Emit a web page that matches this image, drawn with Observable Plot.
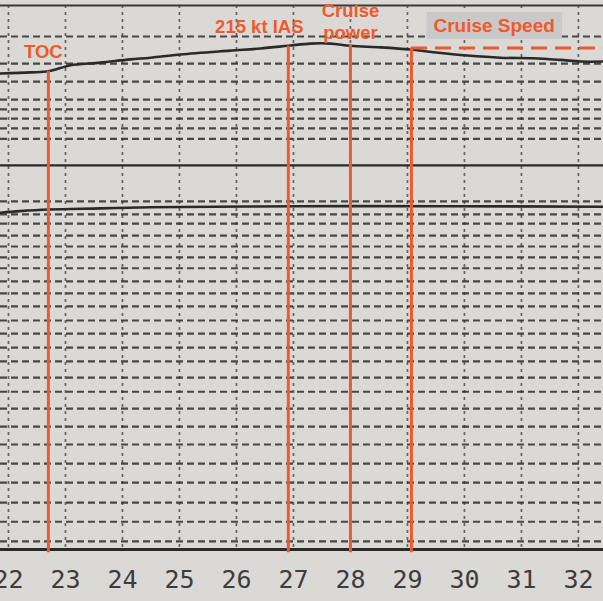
<!DOCTYPE html>
<html><head><meta charset="utf-8">
<script src="https://cdn.jsdelivr.net/npm/d3@7"></script>
<script src="https://cdn.jsdelivr.net/npm/@observablehq/plot@0.6"></script>
<style>html,body{margin:0;padding:0;background:#dbd9d5;overflow:hidden;}</style>
</head><body><div id="chart"></div>
<script>
// Time axis (hours) tick labels
const hourTicks = [22, 23, 24, 25, 26, 27, 28, 29, 30, 31, 32];
const timeDomain = [21.86, 32.44];
// Chart-paper levels (0 = bottom frame, 100 = top frame)
const dashedLevels = [94.3, 89.3, 86.0, 82.7, 80.9, 79.2, 77.4, 75.5,
  64.0, 61.6, 59.9, 57.7, 55.7, 53.7, 51.7, 49.3, 47.1, 44.7, 42.1, 39.7, 37.1,
  34.6, 31.6, 29.0, 25.9, 22.6, 19.3, 15.8, 12.3, 8.6, 5.1, 1.5];
const frameLevels = [100, 0];
// Upper recorded trace
const upperT = [21.86, 22.39, 22.70, 22.91, 23.09, 23.61, 24.14, 24.49, 25.02, 25.89, 26.42, 26.91, 27.30, 27.65, 28.00, 28.53, 29.05, 29.46, 30.05, 30.63, 31.21, 31.68, 32.04, 32.44];
const upperV = [87.5, 87.7, 87.9, 88.5, 89.0, 89.5, 90.1, 90.4, 91.0, 91.7, 92.1, 92.6, 93.0, 93.0, 92.6, 92.3, 91.9, 91.4, 90.8, 90.4, 90.3, 90.0, 89.7, 89.7];
// Middle flat trace
const middleT = [21.86, 24.0, 27.0, 30.0, 32.44];
const middleV = [70.6, 70.6, 70.6, 70.6, 70.6];
// Lower recorded trace
const lowerT = [21.86, 22.2, 22.7, 23.61, 24.49, 27.1, 29.7, 32.44];
const lowerV = [61.9, 62.2, 62.5, 62.7, 62.9, 63.1, 63.1, 63.0];
// Annotated events
const eventLabels = ["TOC", "215 kt IAS", "Cruise\npower", "Cruise Speed"];
const eventTimes = [22.70, 26.91, 28.00, 29.07];
const eventTops = [87.9, 92.5, 92.7, 92.2];
const cruiseSpeedLevel = 92.2;

const upper = upperT.map((t, i) => ({t, v: upperV[i]}));
const middle = middleT.map((t, i) => ({t, v: middleV[i]}));
const lower = lowerT.map((t, i) => ({t, v: lowerV[i]}));
const events = eventLabels.map((label, i) => ({label, t: eventTimes[i], top: eventTops[i]}));

const RED = "#ef5a2c";
const INK = "#2a2a2a";
const labelFont = "Liberation Sans, Arial, Helvetica, sans-serif";

const chart = Plot.plot({
  width: 603,
  height: 601,
  marginLeft: 0, marginRight: 0, marginTop: 5, marginBottom: 52,
  style: {background: "#dbd9d5", overflow: "visible"},
  x: {domain: timeDomain},
  y: {domain: [0, 100], axis: null},
  marks: [
    Plot.ruleX(hourTicks, {stroke: "#3c3c3c", strokeWidth: 1.7, strokeDasharray: "3,4", strokeOpacity: 0.75}),
    Plot.ruleY(dashedLevels, {stroke: "#2e2e2e", strokeWidth: 2.2, strokeDasharray: "7,4", strokeOpacity: 0.85}),
    Plot.ruleY([frameLevels[0]], {stroke: "#3a3a3a", strokeWidth: 2.2}),
    Plot.ruleY([frameLevels[1]], {stroke: "#2a2a2a", strokeWidth: 3.2}),
    Plot.line(middle, {x: "t", y: "v", stroke: INK, strokeWidth: 2.2}),
    Plot.line(lower, {x: "t", y: "v", stroke: INK, strokeWidth: 2.6, curve: "catmull-rom"}),
    Plot.line(upper, {x: "t", y: "v", stroke: INK, strokeWidth: 2.6, curve: "catmull-rom"}),
    Plot.ruleX(events, {x: "t", y1: -0.6, y2: "top", stroke: RED, strokeWidth: 3}),
    Plot.ruleY([cruiseSpeedLevel], {x1: eventTimes[3], x2: timeDomain[1], stroke: RED, strokeWidth: 3, strokeDasharray: "16,8"}),
    Plot.text([events[0]], {x: "t", text: "label", frameAnchor: "top", dx: -5, dy: 39, fill: RED, fontSize: 18.5, fontWeight: "bold", fontFamily: labelFont}),
    Plot.text([events[1]], {x: "t", text: "label", frameAnchor: "top", dx: -29, dy: 14, fill: RED, fontSize: 18.5, fontWeight: "bold", fontFamily: labelFont}),
    Plot.text([events[2]], {x: "t", text: "label", frameAnchor: "top", dx: 0, dy: -4, lineHeight: 1.17, fill: RED, fontSize: 18.5, fontWeight: "bold", fontFamily: labelFont}),
    Plot.text([events[3]], {x: "t", text: "label", frameAnchor: "top", textAnchor: "start", dx: 22, dy: 13, fill: RED, fontSize: 19, fontWeight: "bold", fontFamily: labelFont, className: "cruise-speed-label"}),
    Plot.axisX({ticks: hourTicks, tickSize: 0, tickPadding: 21, label: null, fontSize: 25, fontFamily: "DejaVu Sans Mono, monospace", fill: "#3d3d3d"})
  ]
});
document.getElementById("chart").appendChild(chart);

// grey highlight box behind the "Cruise Speed" label (inside the label's own group)
const lbl = chart.querySelector("g.cruise-speed-label");
if (lbl) {
  const bb = lbl.getBBox();
  const rect = document.createElementNS("http://www.w3.org/2000/svg", "rect");
  rect.setAttribute("x", bb.x - 7);
  rect.setAttribute("y", bb.y - 3);
  rect.setAttribute("width", bb.width + 14);
  rect.setAttribute("height", bb.height + 6);
  rect.setAttribute("fill", "#c9c9c9");
  lbl.insertBefore(rect, lbl.firstChild);
}
</script>
</body></html>
